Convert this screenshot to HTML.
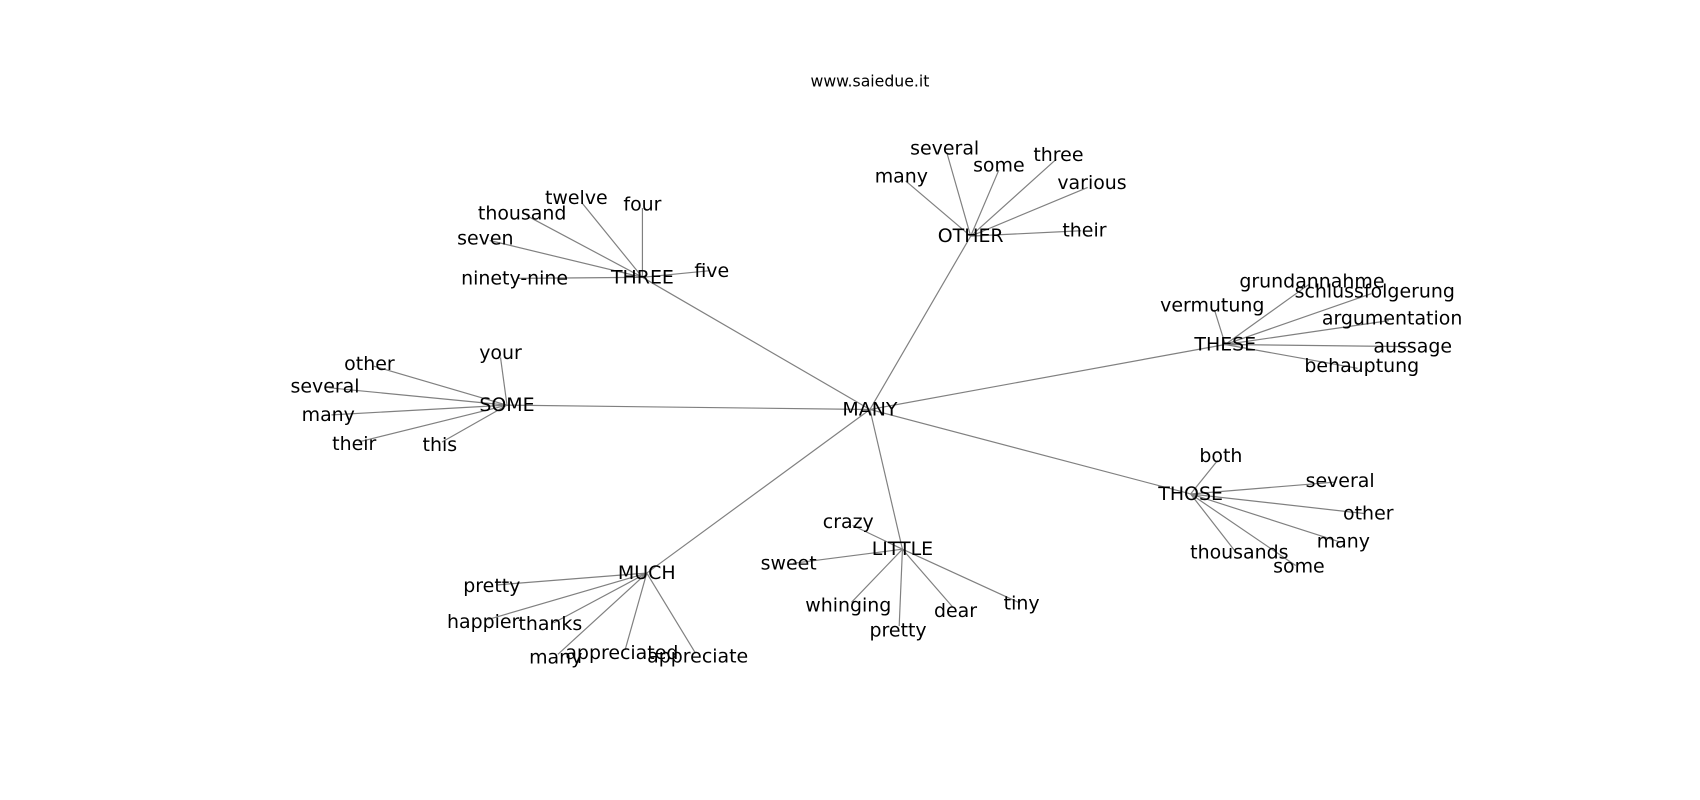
<!DOCTYPE html>
<html><head><meta charset="utf-8"><style>
html,body{margin:0;padding:0;background:#fff;}
svg{display:block;}
text{font-family:"DejaVu Sans","Liberation Sans",sans-serif;font-size:17.5px;fill:#000;text-anchor:middle;dominant-baseline:central;}
line{stroke:#808080;stroke-width:1.1;}
</style></head><body>
<svg width="1700" height="800" viewBox="0 0 1569.2 738.5" preserveAspectRatio="none">
<text x="803" y="75" style="font-size:14.5px">www.saiedue.it</text>
<g>
<line x1="803" y1="378" x2="593" y2="256"/>
<line x1="803" y1="378" x2="896" y2="218"/>
<line x1="803" y1="378" x2="1131" y2="318"/>
<line x1="803" y1="378" x2="1099" y2="456"/>
<line x1="803" y1="378" x2="833" y2="507"/>
<line x1="803" y1="378" x2="597" y2="529"/>
<line x1="803" y1="378" x2="468" y2="374"/>

<line x1="593" y1="256" x2="537" y2="187"/>
<line x1="593" y1="256" x2="486" y2="199"/>
<line x1="593" y1="256" x2="593" y2="192"/>
<line x1="593" y1="256" x2="452" y2="222"/>
<line x1="593" y1="256" x2="478" y2="257"/>
<line x1="593" y1="256" x2="654" y2="250"/>

<line x1="896" y1="218" x2="874" y2="141"/>
<line x1="896" y1="218" x2="836" y2="167"/>
<line x1="896" y1="218" x2="922" y2="157"/>
<line x1="896" y1="218" x2="975" y2="147"/>
<line x1="896" y1="218" x2="1004" y2="173"/>
<line x1="896" y1="218" x2="998" y2="213"/>

<line x1="1131" y1="318" x2="1209" y2="262"/>
<line x1="1131" y1="318" x2="1266" y2="271"/>
<line x1="1131" y1="318" x2="1121" y2="286"/>
<line x1="1131" y1="318" x2="1282" y2="296"/>
<line x1="1131" y1="318" x2="1300" y2="320"/>
<line x1="1131" y1="318" x2="1253" y2="340"/>

<line x1="1099" y1="456" x2="1124" y2="425"/>
<line x1="1099" y1="456" x2="1233" y2="445"/>
<line x1="1099" y1="456" x2="1259" y2="474"/>
<line x1="1099" y1="456" x2="1236" y2="500"/>
<line x1="1099" y1="456" x2="1141" y2="510"/>
<line x1="1099" y1="456" x2="1196" y2="522"/>

<line x1="833" y1="507" x2="787" y2="485"/>
<line x1="833" y1="507" x2="732" y2="520"/>
<line x1="833" y1="507" x2="786" y2="556"/>
<line x1="833" y1="507" x2="830" y2="578"/>
<line x1="833" y1="507" x2="880" y2="561"/>
<line x1="833" y1="507" x2="940" y2="556"/>

<line x1="597" y1="529" x2="458" y2="540"/>
<line x1="597" y1="529" x2="450" y2="572"/>
<line x1="597" y1="529" x2="511" y2="575"/>
<line x1="597" y1="529" x2="515" y2="604"/>
<line x1="597" y1="529" x2="577" y2="600"/>
<line x1="597" y1="529" x2="642" y2="603"/>

<line x1="468" y1="374" x2="462" y2="330"/>
<line x1="468" y1="374" x2="345" y2="338"/>
<line x1="468" y1="374" x2="304" y2="358"/>
<line x1="468" y1="374" x2="306" y2="383"/>
<line x1="468" y1="374" x2="331" y2="408"/>
<line x1="468" y1="374" x2="408" y2="408"/>
</g>
<g>
<text x="803" y="378">MANY</text>
<text x="593" y="256">THREE</text>
<text x="896" y="218">OTHER</text>
<text x="1131" y="318">THESE</text>
<text x="1099" y="456">THOSE</text>
<text x="833" y="507">LITTLE</text>
<text x="597" y="529">MUCH</text>
<text x="468" y="374">SOME</text>

<text x="532" y="183">twelve</text>
<text x="482" y="197">thousand</text>
<text x="593" y="189">four</text>
<text x="448" y="220">seven</text>
<text x="475" y="257">ninety-nine</text>
<text x="657" y="250">five</text>

<text x="872" y="137">several</text>
<text x="832" y="163">many</text>
<text x="922" y="153">some</text>
<text x="977" y="143">three</text>
<text x="1008" y="169">various</text>
<text x="1001" y="213">their</text>

<text x="1211" y="260">grundannahme</text>
<text x="1269" y="269">schlussfolgerung</text>
<text x="1119" y="282">vermutung</text>
<text x="1285" y="294">argumentation</text>
<text x="1304" y="320">aussage</text>
<text x="1257" y="338">behauptung</text>

<text x="1127" y="421">both</text>
<text x="1237" y="444">several</text>
<text x="1263" y="474">other</text>
<text x="1240" y="500">many</text>
<text x="1144" y="510">thousands</text>
<text x="1199" y="523">some</text>

<text x="783" y="482">crazy</text>
<text x="728" y="520">sweet</text>
<text x="783" y="559">whinging</text>
<text x="829" y="582">pretty</text>
<text x="882" y="564">dear</text>
<text x="943" y="557">tiny</text>

<text x="454" y="541">pretty</text>
<text x="446" y="574">happier</text>
<text x="508" y="576">thanks</text>
<text x="513" y="607">many</text>
<text x="574" y="603">appreciated</text>
<text x="644" y="606">appreciate</text>

<text x="462" y="326">your</text>
<text x="341" y="336">other</text>
<text x="300" y="357">several</text>
<text x="303" y="383">many</text>
<text x="327" y="410">their</text>
<text x="406" y="411">this</text>
</g>
</svg>
</body></html>
